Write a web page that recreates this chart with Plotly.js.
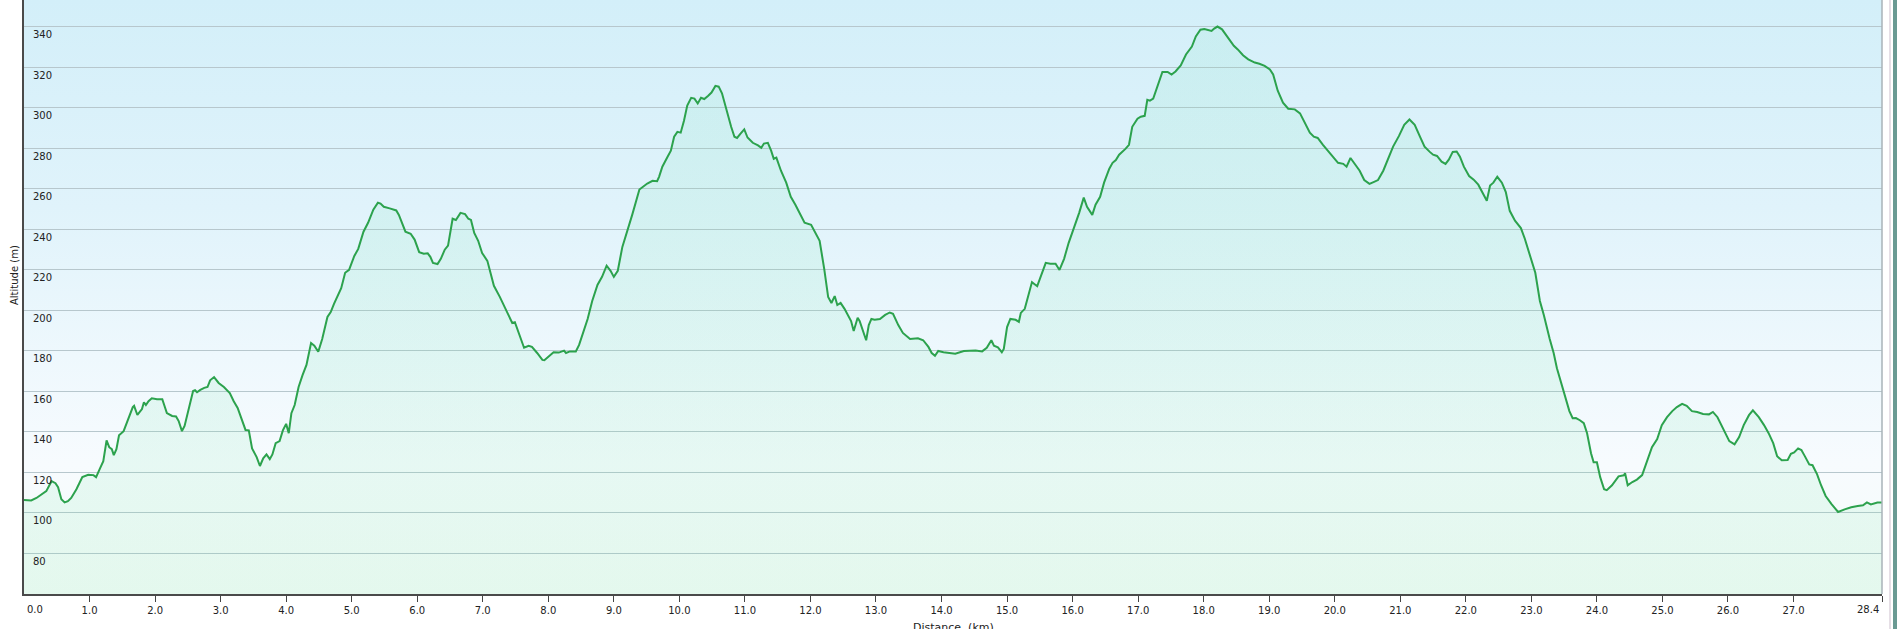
<!DOCTYPE html>
<html>
<head>
<meta charset="utf-8">
<script src="https://cdn.plot.ly/plotly-3.0.1.min.js"></script>
<style>
html,body{margin:0;padding:0;background:#ffffff;overflow:hidden}
#wrap{position:relative;width:1897px;height:629px;background:#ffffff}
#bg{position:absolute;left:24px;top:0;width:1858px;height:594px;
 background:linear-gradient(to bottom,#d3eff9 0%,#e0f3fb 35%,#eef8fd 60%,#f7fbfe 78%,#f4fbf8 100%)}
#chart{position:absolute;left:0;top:0;width:1897px;height:629px}
#edge1{position:absolute;left:1889px;top:0;width:2px;height:629px;background:#e6dfe6}
#edge2{position:absolute;left:1893px;top:0;width:4px;height:629px;background:#6a9a93}
</style>
</head>
<body>
<div id="wrap">
  <div id="bg"></div>
  <div id="chart"></div>
  <div id="edge1"></div>
  <div id="edge2"></div>
</div>
<script>
// Distance along the track (km)
const distanceKm = [
 0.00,0.11,0.19,0.27,0.34,0.42,0.48,0.52,0.57,0.62,0.67,0.72,0.80,0.89,0.98,1.06,1.10,1.16,1.21,1.26,
 1.30,1.34,1.37,1.41,1.45,1.52,1.59,1.66,1.68,1.73,1.80,1.83,1.86,1.90,1.95,2.03,2.11,2.18,2.26,2.32,
 2.36,2.41,2.45,2.51,2.58,2.61,2.64,2.69,2.75,2.80,2.84,2.90,2.97,3.05,3.14,3.20,3.26,3.31,3.38,3.43,
 3.48,3.55,3.60,3.65,3.70,3.75,3.79,3.84,3.90,3.95,4.00,4.04,4.08,4.13,4.19,4.25,4.31,4.38,4.43,4.49,
 4.55,4.63,4.68,4.73,4.84,4.90,4.96,5.04,5.10,5.18,5.25,5.33,5.40,5.44,5.49,5.58,5.68,5.72,5.78,5.82,
 5.90,5.96,6.03,6.10,6.16,6.20,6.24,6.31,6.36,6.42,6.47,6.54,6.59,6.66,6.73,6.78,6.82,6.87,6.93,
 6.99,7.07,7.17,7.26,7.37,7.45,7.49,7.55,7.63,7.70,7.75,7.83,7.91,7.94,8.01,8.08,8.16,8.24,8.27,8.33,
 8.42,8.47,8.60,8.67,8.75,8.82,8.89,8.95,9.00,9.06,9.13,9.20,9.28,9.39,9.44,9.51,9.59,9.66,9.69,9.74,
 9.82,9.87,9.92,9.97,10.02,10.07,10.12,10.18,10.23,10.28,10.33,10.38,10.44,10.49,10.55,10.60,10.65,10.71,10.79,10.84,
 10.88,10.93,10.99,11.04,11.12,11.20,11.25,11.29,11.35,11.40,11.44,11.48,11.55,11.63,11.70,11.77,11.82,11.91,12.01,12.06,
 12.14,12.21,12.27,12.32,12.37,12.41,12.46,12.52,12.57,12.62,12.66,12.72,12.75,12.79,12.85,12.89,12.93,12.98,13.06,13.14,
 13.21,13.26,13.34,13.41,13.52,13.64,13.72,13.80,13.85,13.90,13.95,14.03,14.15,
 14.21,14.34,14.52,14.62,14.69,14.76,14.80,14.86,14.92,14.95,15.00,15.05,15.13,15.18,15.21,15.27,15.33,15.38,15.46,15.51,
 15.59,15.66,15.74,15.80,15.87,15.94,16.02,16.10,16.17,16.22,16.30,16.35,16.42,16.48,16.56,16.61,16.66,16.71,16.81,16.86,
 16.91,16.99,17.04,17.10,17.14,17.18,17.23,17.30,17.37,17.45,17.51,17.57,17.65,17.73,17.82,17.88,17.95,18.01,18.06,18.12,
 18.16,18.21,18.28,18.34,18.41,18.46,18.52,18.60,18.68,18.78,18.85,18.93,19.01,19.06,19.13,19.21,19.29,19.39,19.47,19.53,
 19.62,19.68,19.74,19.82,19.90,19.97,20.05,20.13,20.18,20.24,20.30,20.38,20.45,20.53,20.60,20.66,20.74,20.81,20.89,20.98,
 21.06,21.14,21.22,21.30,21.37,21.45,21.50,21.56,21.63,21.69,21.74,21.80,21.86,21.91,21.97,22.05,22.12,22.19,22.24,22.32,
 22.37,22.42,22.48,22.55,22.61,22.67,22.75,22.84,22.90,22.98,23.06,23.13,23.19,23.28,23.34,23.39,23.45,23.52,23.58,23.63,
 23.68,23.74,23.80,23.85,23.91,23.95,24.00,24.05,24.11,24.15,24.23,24.33,24.41,24.43,24.47,24.54,24.61,24.69,24.77,24.84,
 24.92,24.99,25.07,25.15,25.22,25.30,25.37,25.45,25.53,25.62,25.71,25.77,25.84,25.91,26.02,26.10,26.17,26.24,26.32,26.38,
 26.47,26.55,26.62,26.69,26.75,26.82,26.91,26.96,27.01,27.07,27.12,27.17,27.24,27.29,27.36,27.42,27.49,27.58,27.68,27.78,
 27.88,27.98,28.06,28.12,28.18,28.28,28.35
];
// Altitude (m)
const altitudeM = [
 106.4,106.2,107.4,109.4,110.8,115.7,114.7,112.7,106.8,105.2,105.8,107.4,111.7,117.7,118.9,118.7,117.7,122.0,125.6,135.9,
 132.5,131.5,128.6,131.5,138.4,140.4,146.4,152.3,152.9,148.4,151.3,154.7,153.3,155.2,156.6,156.2,156.2,149.3,147.9,147.7,
 145.4,140.4,143.0,151.3,160.2,160.6,159.6,160.8,161.8,162.2,165.5,167.1,164.2,162.2,159.2,155.2,151.9,147.3,141.0,140.8,
 131.9,127.6,123.2,127.0,128.9,126.6,128.9,134.5,135.5,140.8,144.0,139.4,149.3,153.3,162.2,168.1,173.1,183.9,182.6,179.6,
 185.9,196.8,199.2,203.3,211.0,218.6,220.1,226.9,230.4,238.9,243.3,249.8,253.2,252.8,251.2,250.4,249.4,247.2,242.3,238.9,
 237.9,235.0,228.8,228.0,228.2,226.5,223.5,222.9,225.5,230.0,232.0,245.3,244.7,248.2,247.6,245.3,244.7,238.3,234.4,
 228.4,224.5,212.2,206.7,198.8,193.8,194.2,188.5,181.6,182.6,182.0,179.0,175.6,175.4,177.4,179.4,179.2,180.2,179.0,179.8,
 179.8,183.0,195.8,204.7,212.6,216.6,222.1,219.6,216.6,219.6,231.4,238.3,247.2,259.7,261.1,262.7,264.0,263.8,266.0,271.0,
 275.9,278.9,285.8,288.2,287.8,293.7,301.2,305.0,304.6,302.2,305.0,304.4,306.0,307.6,310.9,310.5,307.2,299.6,290.7,285.8,
 285.2,287.2,289.4,285.4,282.8,281.5,280.3,282.4,282.8,278.9,274.9,275.5,269.0,263.1,256.1,252.2,249.2,243.3,242.3,239.3,
 234.4,220.5,206.7,203.7,207.1,202.7,203.7,200.8,197.8,194.8,189.9,196.4,194.8,190.5,185.3,192.8,195.8,195.4,195.8,197.8,
 199.0,198.4,192.8,188.9,185.9,186.3,185.3,182.0,179.0,177.6,180.0,179.4,179.0,
 178.6,180.0,180.2,179.8,181.6,185.3,182.6,181.8,179.4,181.0,191.8,195.8,195.4,194.4,198.8,200.8,207.7,214.0,212.0,216.6,
 223.5,223.1,223.1,220.0,225.5,233.4,240.3,248.2,255.7,251.2,247.2,252.2,256.1,263.1,270.0,272.9,274.3,276.9,279.9,281.8,
 290.7,294.7,295.7,296.1,304.0,303.6,304.6,311.5,317.8,317.8,316.5,318.0,321.0,326.4,330.3,335.3,338.6,339.0,338.6,338.0,
 339.2,340.2,338.8,336.2,333.3,330.7,328.9,326.0,324.0,322.4,321.8,320.8,319.0,316.5,308.5,302.6,299.6,299.3,297.3,293.7,
 287.8,285.8,285.2,281.8,278.9,275.9,272.9,272.4,271.0,275.3,272.4,269.0,264.4,262.5,263.5,264.4,269.0,274.9,280.9,286.2,
 291.7,294.3,291.7,285.8,280.9,278.3,276.9,276.3,273.5,272.4,274.5,278.3,278.5,275.9,271.0,266.4,264.6,262.1,259.1,254.2,
 261.7,263.1,266.0,263.1,258.5,249.2,244.3,240.7,235.4,226.5,218.6,204.7,197.8,185.9,179.0,171.5,165.2,157.2,150.3,146.8,
 146.9,145.8,144.4,139.4,129.5,125.0,125.0,117.7,111.7,111.3,113.7,118.1,118.6,119.6,113.7,115.3,116.5,118.7,125.6,132.5,
 136.5,143.4,147.3,150.3,152.3,153.9,152.9,150.3,149.9,148.9,148.7,149.9,147.3,142.4,135.5,133.9,137.5,143.4,148.3,150.7,
 147.3,143.4,139.4,134.5,128.0,126.0,126.2,129.2,129.9,131.9,131.1,128.2,124.0,123.6,119.1,113.7,108.4,104.4,100.5,101.8,
 102.8,103.4,103.8,105.2,104.2,105.2,105.2
];

// Axis ticks
const xTickVals = [0,1,2,3,4,5,6,7,8,9,10,11,12,13,14,15,16,17,18,19,20,21,22,23,24,25,26,27,28.35];
const xTickText = ["0.0","1.0","2.0","3.0","4.0","5.0","6.0","7.0","8.0","9.0","10.0","11.0","12.0","13.0","14.0",
                   "15.0","16.0","17.0","18.0","19.0","20.0","21.0","22.0","23.0","24.0","25.0","26.0","27.0","28.4"];
const yTickVals = [80,100,120,140,160,180,200,220,240,260,280,300,320,340];
const yTickText = ["80","100","120","140","160","180","200","220","240","260","280","300","320","340"];

const xTitle = "Distance  (km)";
const yTitle = "Altitude (m)";

const tickFont = {family: "DejaVu Sans, Verdana, sans-serif", size: 10, color: "#222222"};

const trace = {
  type: "scatter",
  mode: "lines",
  x: distanceKm,
  y: altitudeM,
  line: {color: "#2ca24d", width: 2, shape: "linear"},
  fill: "tozeroy",
  fillgradient: {
    type: "vertical",
    start: 60,
    stop: 345,
    colorscale: [[0, "rgba(110,228,160,0.12)"], [0.5, "rgba(105,226,165,0.12)"], [1, "rgba(100,224,170,0.10)"]]
  },
  hoverinfo: "x+y"
};

// middle tick labels drawn by the axis, first/last aligned to the plot edges
const axisTickText = xTickText.map((t, i) => (i === 0 || i === xTickText.length - 1) ? "" : t);
const last = xTickVals.length - 1;

const layout = {
  width: 1897,
  height: 629,
  margin: {l: 24, r: 15, t: 0, b: 35, pad: 0},
  paper_bgcolor: "rgba(0,0,0,0)",
  plot_bgcolor: "rgba(0,0,0,0)",
  showlegend: false,
  xaxis: {
    range: [0, 28.35],
    tickmode: "array",
    tickvals: xTickVals,
    ticktext: axisTickText,
    ticks: "outside",
    ticklen: 6,
    tickwidth: 1,
    tickcolor: "#444444",
    showline: true,
    linecolor: "#4a4a4a",
    linewidth: 2,
    showgrid: false,
    zeroline: false,
    tickfont: tickFont,
    fixedrange: true
  },
  yaxis: {
    range: [60, 353.3],
    tickmode: "array",
    tickvals: yTickVals,
    ticktext: yTickText,
    ticks: "",
    ticklabelposition: "inside",
    ticklabelstandoff: 8,
    ticklabelshift: 8,
    showgrid: true,
    gridcolor: "#b7c7cd",
    gridwidth: 1,
    showline: true,
    linecolor: "#4a4a4a",
    linewidth: 2,
    zeroline: false,
    tickfont: tickFont,
    fixedrange: true
  },
  shapes: [
    {type: "line", xref: "paper", yref: "paper", x0: 1, x1: 1, y0: 0, y1: 1,
     line: {color: "#a9b3b8", width: 1.5}}
  ],
  annotations: [
    {text: yTitle, xref: "paper", yref: "paper", x: 0, y: 0.537, xanchor: "center", yanchor: "middle",
     xshift: -10, textangle: -90, showarrow: false,
     font: {family: "DejaVu Sans, Verdana, sans-serif", size: 10, color: "#222222"}},
    {text: xTitle, xref: "paper", yref: "paper", x: 0.5, y: 0, xanchor: "center", yanchor: "middle",
     yshift: -33, showarrow: false,
     font: {family: "DejaVu Sans, Verdana, sans-serif", size: 11, color: "#222222"}},
    {text: xTickText[0], xref: "x", yref: "paper", x: xTickVals[0], y: 0, xanchor: "left", yanchor: "middle",
     xshift: 1, yshift: -15, showarrow: false, font: tickFont},
    {text: xTickText[last], xref: "x", yref: "paper", x: xTickVals[last], y: 0, xanchor: "right", yanchor: "middle",
     xshift: -1, yshift: -15, showarrow: false, font: tickFont}
  ]
};

Plotly.newPlot("chart", [trace], layout, {displayModeBar: false, staticPlot: true});
</script>
</body>
</html>
